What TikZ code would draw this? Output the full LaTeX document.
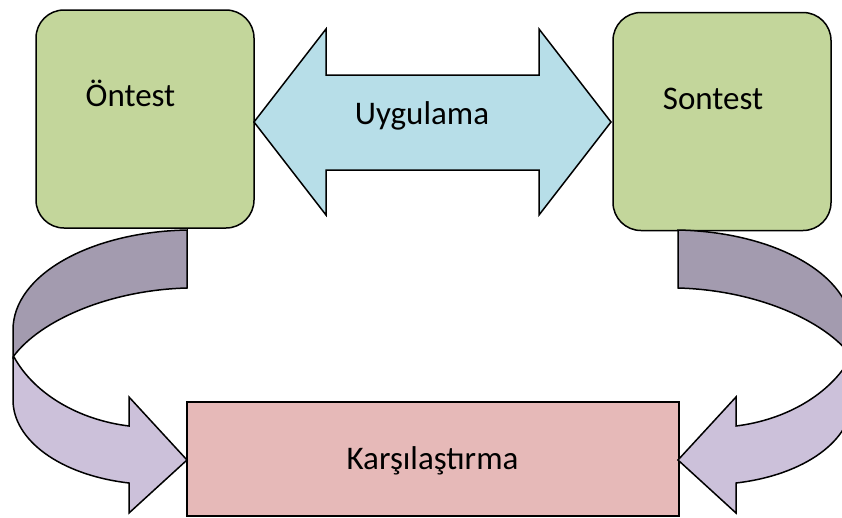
\documentclass[tikz,border=0pt]{standalone}
\usepackage{fontspec}
\setmainfont{Carlito}
\definecolor{boxgreen}{HTML}{C3D69B}
\definecolor{arrowblue}{HTML}{B7DEE8}
\definecolor{boxpink}{HTML}{E6B9B8}
\definecolor{lightpurple}{HTML}{CCC1DA}
\definecolor{darkpurple}{HTML}{A39BAF}
\begin{document}
\begin{tikzpicture}[x=1pt,y=-1pt,line join=miter,
  outl/.style={draw=black,line width=1.5pt},
  greenbox/.style={outl,fill=boxgreen,rounded corners=28pt,minimum width=218pt,minimum height=218pt,inner sep=0pt},
  pinkbox/.style={outl,fill=boxpink,minimum width=492pt,minimum height=114pt,inner sep=0pt},
  lbl/.style={anchor=base,inner sep=0pt,font=\fontsize{33}{40}\selectfont},
  backpart/.style={outl,fill=darkpurple},
  frontpart/.style={outl,fill=lightpurple},
  dblarrow/.style={outl,fill=arrowblue}]
\useasboundingbox (0,0) rectangle (842,517);
\clip (0,0) rectangle (842,517);

% boxes
\node[greenbox] (pre) at (145,119) {};
\node[greenbox] (post) at (722,121.5) {};
\node[pinkbox] (cmp) at (433,459) {};

% double arrow
\path[dblarrow] (254,122) -- (326,29) -- (326,75) -- (539,75) -- (539,29) -- (611,122)
  -- (539,215) -- (539,170) -- (326,170) -- (326,215) -- cycle;

% left curved arrow
\path[frontpart] (13,357) -- (13,400) .. controls (13,440) and (60,475) .. (129,483)
  -- (129,513) -- (187,460) -- (129,397) -- (129,426)
  .. controls (80,420) and (35,395) .. (14,357) -- cycle;
\path[backpart] (187,230) .. controls (90,232) and (13,275) .. (13,330) -- (13,357)
  .. controls (40,320) and (110,290) .. (187,288) -- cycle;

% right curved arrow (mirror)
\begin{scope}[xshift=865pt,xscale=-1]
\path[frontpart] (13,357) -- (13,400) .. controls (13,440) and (60,475) .. (129,483)
  -- (129,513) -- (187,460) -- (129,397) -- (129,426)
  .. controls (80,420) and (35,395) .. (14,357) -- cycle;
\path[backpart] (187,230) .. controls (90,232) and (13,275) .. (13,330) -- (13,357)
  .. controls (40,320) and (110,290) .. (187,288) -- cycle;
\end{scope}

% labels
\node[lbl] (tpre) at (130.5,106) {Öntest};
\node[lbl] (tpost) at (713,109) {Sontest};
\node[lbl] (tapp) at (422,124) {Uygulama};
\node[lbl] (tcmp) at (432.5,469) {Karşılaştırma};
\end{tikzpicture}
\end{document}
